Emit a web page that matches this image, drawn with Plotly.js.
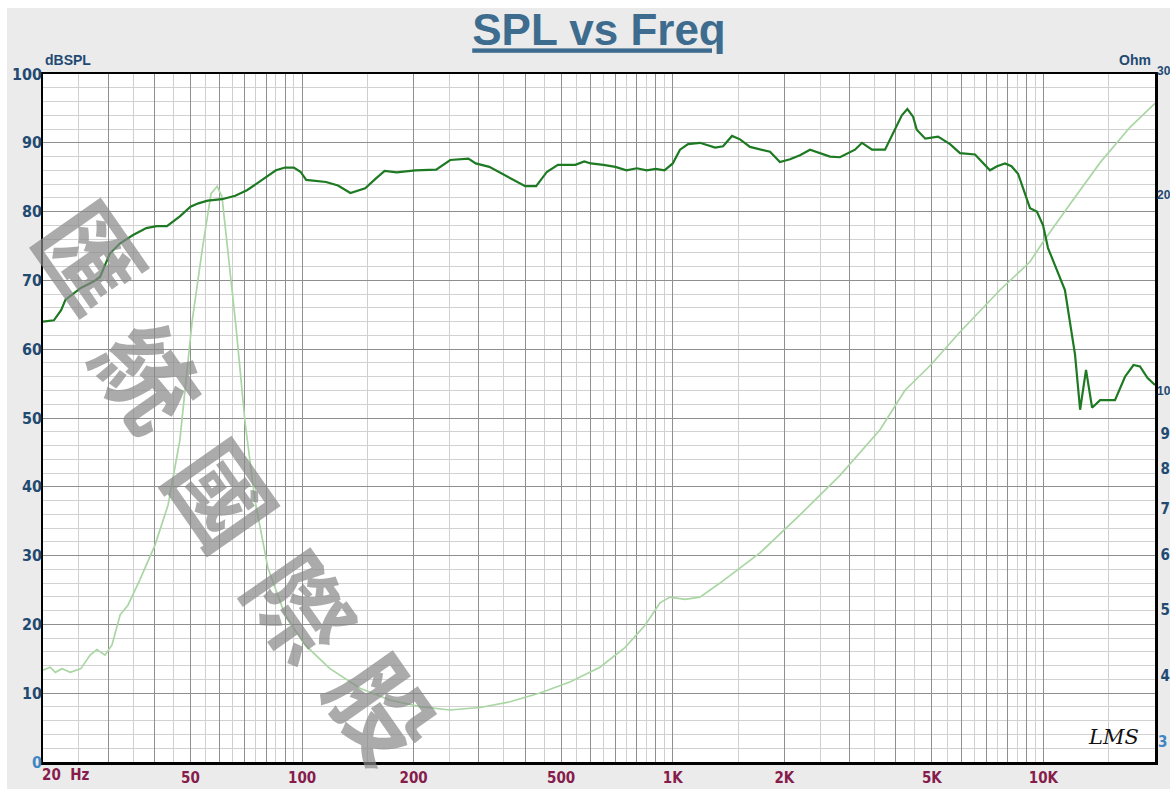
<!DOCTYPE html>
<html>
<head>
<meta charset="utf-8">
<script src="https://cdn.plot.ly/plotly-3.0.1.min.js"></script>
<style>
  html, body { margin: 0; padding: 0; background: #ffffff; }
  #chart { width: 1170px; height: 789px; }
</style>
</head>
<body>
<div id="chart"></div>
<script>
// ---------------- data ----------------
const splFreq = [20, 21.4, 22.4, 23.0, 25.3, 27.3, 28.5, 30.3, 32.3, 35.0, 38.0, 40.5, 43.2, 46.8, 50, 52.5, 55.6, 60.8, 66, 71, 78, 85, 90, 95, 99, 102.6, 116, 125, 135, 148, 158, 167, 180, 202, 230, 251, 281, 294, 320, 351, 400, 428, 458, 490, 546, 577, 601, 650, 700, 750, 800, 850, 900, 950, 1000, 1046, 1100, 1184, 1301, 1367, 1445, 1519, 1616, 1830, 1946, 2072, 2204, 2346, 2500, 2656, 2826, 3102, 3240, 3448, 3738, 3977, 4150, 4295, 4450, 4553, 4800, 5196, 5598, 5956, 6538, 7174, 7500, 7878, 8200, 8542, 9200, 9600, 9977, 10290, 11430, 12170, 12560, 13030, 13530, 14220, 15600, 16600, 17500, 18220, 19100, 20000];
const splDb = [64.0, 64.2, 65.7, 67.2, 68.9, 69.8, 70.5, 73.9, 75.4, 76.6, 77.6, 77.9, 77.9, 79.3, 80.7, 81.2, 81.6, 81.8, 82.3, 83.1, 84.6, 86.0, 86.4, 86.4, 85.8, 84.6, 84.3, 83.8, 82.7, 83.4, 84.8, 85.9, 85.7, 86.0, 86.1, 87.5, 87.7, 87.0, 86.5, 85.3, 83.7, 83.7, 85.8, 86.8, 86.8, 87.3, 87.0, 86.8, 86.5, 86.0, 86.3, 86.0, 86.2, 86.0, 87.0, 89.0, 89.8, 90.0, 89.3, 89.5, 91.0, 90.5, 89.4, 88.7, 87.2, 87.6, 88.2, 89.0, 88.5, 88.0, 87.9, 89.0, 90.0, 89.0, 89.0, 91.9, 94.0, 94.9, 93.8, 91.9, 90.6, 90.9, 89.8, 88.5, 88.3, 86.0, 86.6, 87.0, 86.6, 85.5, 80.5, 80.0, 78.0, 74.7, 68.6, 59.2, 51.2, 57.0, 51.5, 52.6, 52.6, 56.0, 57.7, 57.5, 55.8, 54.8];

const impFreq = [20, 20.9, 21.6, 22.5, 23.7, 25.3, 26.8, 27.96, 29.4, 30.7, 32.3, 33.9, 36.5, 40.1, 43.5, 46.8, 50.5, 53.9, 56.8, 59.0, 60.8, 63.5, 66.3, 70.1, 74.6, 80.9, 89.9, 101.8, 118.9, 143.3, 172.7, 208, 250.6, 302, 364, 438, 528, 636, 743, 842, 924, 983, 1079, 1184, 1341, 1719, 2204, 2826, 3624, 4233, 4943, 5956, 7636, 9200, 9977, 11790, 14220, 17120, 20000];
const impOhm = [4.08, 4.12, 4.05, 4.10, 4.05, 4.10, 4.29, 4.37, 4.29, 4.44, 4.91, 5.07, 5.52, 6.20, 7.09, 8.81, 13.1, 16.8, 20.1, 20.6, 19.9, 15.9, 12.9, 9.4, 7.21, 5.74, 4.91, 4.44, 4.10, 3.84, 3.69, 3.61, 3.57, 3.60, 3.67, 3.78, 3.92, 4.12, 4.40, 4.74, 5.11, 5.21, 5.17, 5.21, 5.46, 6.04, 6.86, 7.83, 9.12, 10.41, 11.3, 12.65, 14.56, 16.0, 17.1, 19.4, 22.3, 25.1, 27.2];

// axis ticks / labels
const decades = [10, 100, 1000, 10000];
const majorMantissa = [1, 2, 3, 4, 5, 6, 7, 8, 9];
const minorMantissa = [1.5, 2.5, 3.5, 4.5, 5.5, 6.5, 7.5, 8.5, 9.5];
const xLabelVals = [50, 100, 200, 500, 1000, 2000, 5000, 10000, 20000];
const xLabelText = ['50', '100', '200', '500', '1K', '2K', '5K', '10K', '20K'];
const xFirstLabel = '20\u00a0\u00a0Hz';
const dbTickVals = [0, 10, 20, 30, 40, 50, 60, 70, 80, 90, 100];
const ohmTickVals = [4, 5, 6, 7, 8, 9];
const ohmWideLabels = ['30', '20', '10'];
const ohmWideValues = [30, 20, 10];
const ohmBottomLabel = '3';
const watermarkChars = ['匯', '統', '國', '際', '股'];

// ---------------- build ----------------
const FMIN = 20, FMAX = 20000;
const OMIN = 3, OMAX = 30;
function gridVals(mant) {
  const out = [];
  decades.forEach(d => mant.forEach(m => {
    const v = Math.round(m * d * 1000) / 1000;
    if (v >= FMIN && v <= FMAX) out.push(v);
  }));
  return out;
}
const xMajor = gridVals(majorMantissa);
const xMinor = gridVals(minorMantissa);
const xMajorText = xMajor.map(v => {
  const i = xLabelVals.indexOf(v);
  return i >= 0 ? xLabelText[i] : '';
});
function ohmFrac(v) { return Math.log10(v / OMIN) / Math.log10(OMAX / OMIN); }

const NAVY = '#1f4a72';
const LIGHTBLUE = '#3f86c2';
const MAROON = '#861c4c';
const FAM = '"Liberation Sans Narrow", "DejaVu Sans Condensed", "Arial Narrow", sans-serif';
const labelFont = { family: FAM, size: 16, weight: 'bold' };
const xFont = { family: FAM, size: 15, weight: 'bold', color: MAROON };
const rightFont = { family: FAM, size: 15, weight: 'bold', color: NAVY };
const rightWideFont = { family: '"Liberation Sans", Arial, sans-serif', size: 12, weight: 'bold', color: NAVY };

const dbTickText = dbTickVals.map(v => v === 0 ? '<span style="color:' + LIGHTBLUE + '">0</span>' : String(v));

const traces = [
  {
    x: impFreq, y: impOhm, xaxis: 'x', yaxis: 'y',
    type: 'scatter', mode: 'lines',
    line: { color: '#a9d6a3', width: 1.7 },
    hoverinfo: 'skip'
  },
  {
    x: splFreq, y: splDb, xaxis: 'x', yaxis: 'y2',
    type: 'scatter', mode: 'lines',
    line: { color: '#1d7a22', width: 2.2 },
    hoverinfo: 'skip'
  }
];

const annotations = [
  { text: 'dBSPL', xref: 'paper', yref: 'paper', x: 0, y: 1, xanchor: 'left', yanchor: 'bottom', yshift: 4, showarrow: false,
    font: { family: '"Liberation Sans", Arial, sans-serif', size: 14, weight: 'bold', color: NAVY } },
  { text: 'Ohm', xref: 'paper', yref: 'paper', x: 1, y: 1, xanchor: 'right', yanchor: 'bottom', yshift: 4, xshift: -2, showarrow: false,
    font: { family: '"Liberation Sans", Arial, sans-serif', size: 14, weight: 'bold', color: NAVY } },
  { text: xFirstLabel, xref: 'paper', yref: 'paper', x: 0, y: 0, xanchor: 'left', yanchor: 'middle', xshift: -3, yshift: -13, showarrow: false,
    font: xFont },
  { text: ohmBottomLabel, xref: 'paper', yref: 'paper', x: 1, y: (762 - 742) / 688, xanchor: 'left', yanchor: 'middle', xshift: 1, showarrow: false,
    font: Object.assign({}, rightFont, { color: LIGHTBLUE }) },
  { text: 'LMS', xref: 'paper', yref: 'paper', x: 0.963, y: 0.036, xanchor: 'center', yanchor: 'middle', showarrow: false,
    font: { family: '"DejaVu Serif", serif', size: 21, style: 'italic', color: '#111111' } }
];

// two-digit Ohm labels (narrow space at the right edge)
const wideShift = [3, 0, 11];
ohmWideLabels.forEach((t, i) => {
  annotations.push({
    text: t, xref: 'paper', yref: 'paper', x: 1, y: ohmFrac(ohmWideValues[i]),
    xanchor: 'left', yanchor: 'middle', xshift: 0, yshift: wideShift[i], showarrow: false,
    font: rightWideFont
  });
});

// watermark, one glyph per annotation along a diagonal
const wmPos = [[94, 254], [152, 374], [226, 492], [305, 604], [386, 706]];
watermarkChars.forEach((ch, i) => {
  annotations.push({
    text: ch, xref: 'paper', yref: 'paper',
    x: (wmPos[i][0] - 43) / 1112, y: (762 - wmPos[i][1]) / 688,
    xanchor: 'center', yanchor: 'middle', showarrow: false, textangle: 55,
    font: { family: '"Noto Sans CJK TC", "Noto Sans CJK SC", sans-serif', size: 100, weight: 'bold', color: 'rgba(135,135,135,0.7)' }
  });
});

const layout = {
  width: 1170, height: 789,
  paper_bgcolor: '#ebebeb', plot_bgcolor: '#ffffff',
  margin: { l: 43, r: 15, t: 74, b: 27, pad: 0 },
  showlegend: false,
  title: {
    text: 'SPL vs Freq',
    font: { family: '"Liberation Sans", Arial, sans-serif', size: 44, weight: 'bold', color: '#3e6c8e', lineposition: 'under' },
    x: 0.5, xref: 'paper', xanchor: 'center',
    y: 1 - 30 / 789, yref: 'container', yanchor: 'middle'
  },
  xaxis: {
    type: 'log', range: [Math.log10(FMIN), Math.log10(FMAX)],
    tickmode: 'array', tickvals: xMajor, ticktext: xMajorText,
    showgrid: true, gridcolor: '#8f8f8f', gridwidth: 1,
    ticks: '', zeroline: false,
    showline: true, linecolor: '#000000', linewidth: 2.5, mirror: true,
    tickfont: xFont,
    ticklabelstandoff: 0,
    minor: { tickmode: 'array', tickvals: xMinor, showgrid: true, gridcolor: '#cfcfcf', gridwidth: 1, ticks: '' }
  },
  yaxis: {
    type: 'log', range: [Math.log10(OMIN), Math.log10(OMAX)], side: 'right',
    tickmode: 'array', tickvals: ohmTickVals, ticktext: ohmTickVals.map(String),
    showgrid: false, ticks: '', zeroline: false,
    showline: true, linecolor: '#000000', linewidth: 2.5, mirror: true,
    tickfont: rightFont, ticklabelstandoff: 0
  },
  yaxis2: {
    overlaying: 'y', side: 'left', range: [0, 100],
    tickmode: 'array', tickvals: dbTickVals, ticktext: dbTickText,
    showgrid: true, gridcolor: '#8f8f8f', gridwidth: 1,
    ticks: '', zeroline: false, showline: false,
    tickfont: Object.assign({}, labelFont, { color: NAVY }),
    minor: { dtick: 2, showgrid: true, gridcolor: '#d2d2d2', gridwidth: 1, ticks: '' }
  },
  shapes: [
    { type: 'rect', xref: 'paper', yref: 'paper', x0: -43 / 1112, x1: -36 / 1112, y0: -27 / 688, y1: 1 + 74 / 688, fillcolor: '#ffffff', line: { width: 0 }, layer: 'below' },
    { type: 'rect', xref: 'paper', yref: 'paper', x0: -43 / 1112, x1: 1 + 15 / 1112, y0: 1 + 66 / 688, y1: 1 + 74 / 688, fillcolor: '#ffffff', line: { width: 0 }, layer: 'below' }
  ],
  annotations: annotations
};

Plotly.newPlot('chart', traces, layout, { displayModeBar: false, staticPlot: true });
</script>
</body>
</html>
